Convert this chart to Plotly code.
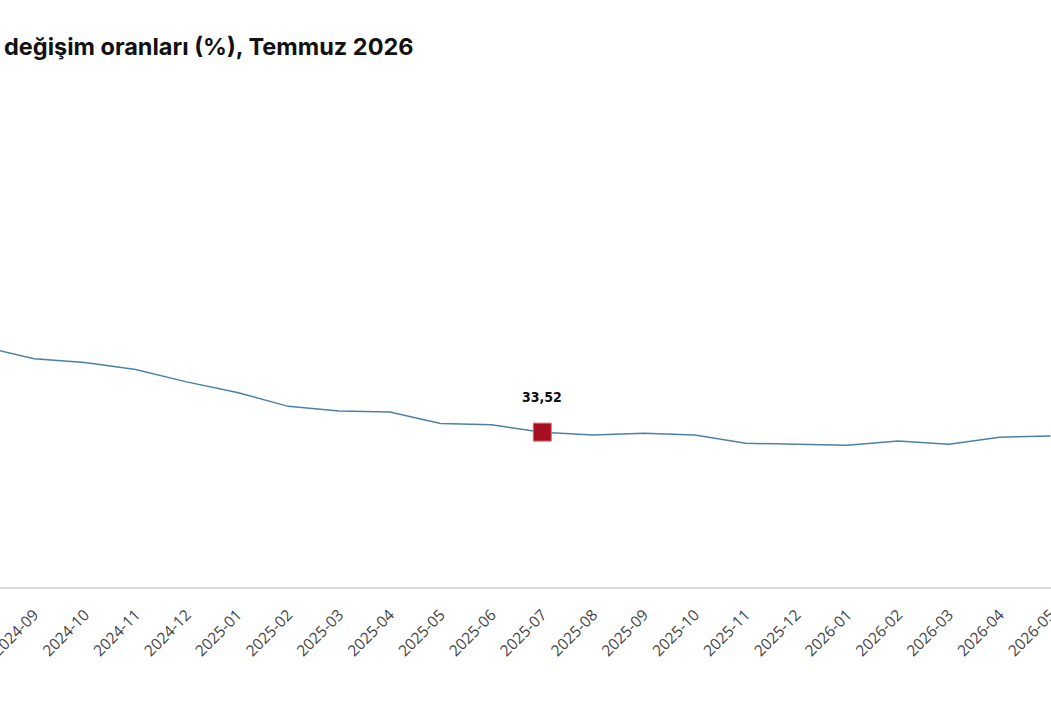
import plotly.graph_objects as go

# monthly annual change (%)
months = [
    "2024-08", "2024-09", "2024-10", "2024-11", "2024-12",
    "2025-01", "2025-02", "2025-03", "2025-04", "2025-05", "2025-06",
    "2025-07", "2025-08", "2025-09", "2025-10", "2025-11", "2025-12",
    "2026-01", "2026-02", "2026-03", "2026-04", "2026-05",
]
rates = [
    52.0, 49.4, 48.6, 47.1, 44.4,
    42.1, 39.1, 38.1, 37.9, 35.4, 35.1,
    33.52, 32.9, 33.3, 32.9, 31.1, 30.9,
    30.7, 31.6, 30.9, 32.4, 32.7,
]
highlight_month = "2025-07"
highlight_value = 33.52
highlight_label = "33,52"
title_text = "değişim oranları (%), Temmuz 2026"


def main():
    fig = go.Figure()

    fig.add_trace(go.Scatter(
        x=months,
        y=rates,
        mode="lines",
        line=dict(color="#4d80a6", width=1.5),
        hoverinfo="skip",
        showlegend=False,
    ))

    fig.add_trace(go.Scatter(
        x=[highlight_month],
        y=[highlight_value],
        mode="markers",
        marker=dict(symbol="square", size=18, color="#a50f1f",
                    line=dict(color="#e06b74", width=1)),
        hoverinfo="skip",
        showlegend=False,
    ))

    fig.add_annotation(
        x=highlight_month, y=highlight_value,
        text=highlight_label, showarrow=False,
        yshift=35,
        font=dict(family="Liberation Sans Narrow, DejaVu Sans Condensed, Roboto",
                  size=14, color="#111111", weight="bold"),
    )

    fig.update_layout(
        width=1051, height=701,
        paper_bgcolor="white", plot_bgcolor="white",
        margin=dict(l=0, r=0, t=125, b=114, pad=0),
        title=dict(
            text=title_text, xref="container", x=4 / 1051,
            y=1 - 47 / 701, yanchor="middle", xanchor="left",
            pad=dict(l=0, r=0, t=0, b=0),
            font=dict(family="Inter, Arial", size=23.5, color="#111111",
                      weight="bold"),
        ),
        xaxis=dict(
            type="category",
            range=[0.33, 21.01],
            tickangle=-45,
            automargin=False,
            showline=True, linecolor="#dddddd", linewidth=1.5,
            showgrid=False, ticks="",
            ticklabelstandoff=11,
            tickfont=dict(family="Open Sans", size=15.5, color="#444444"),
        ),
        yaxis=dict(
            range=[0, 100],
            automargin=False,
            showgrid=False, zeroline=False,
            showticklabels=False, showline=False,
        ),
    )

    # the page body has an 8px default margin; drop it so the figure sits at 0,0
    fig.write_html("out.html", config={"displayModeBar": False},
                   post_script="document.body.style.margin='0';")


if __name__ == "__main__":
    main()
